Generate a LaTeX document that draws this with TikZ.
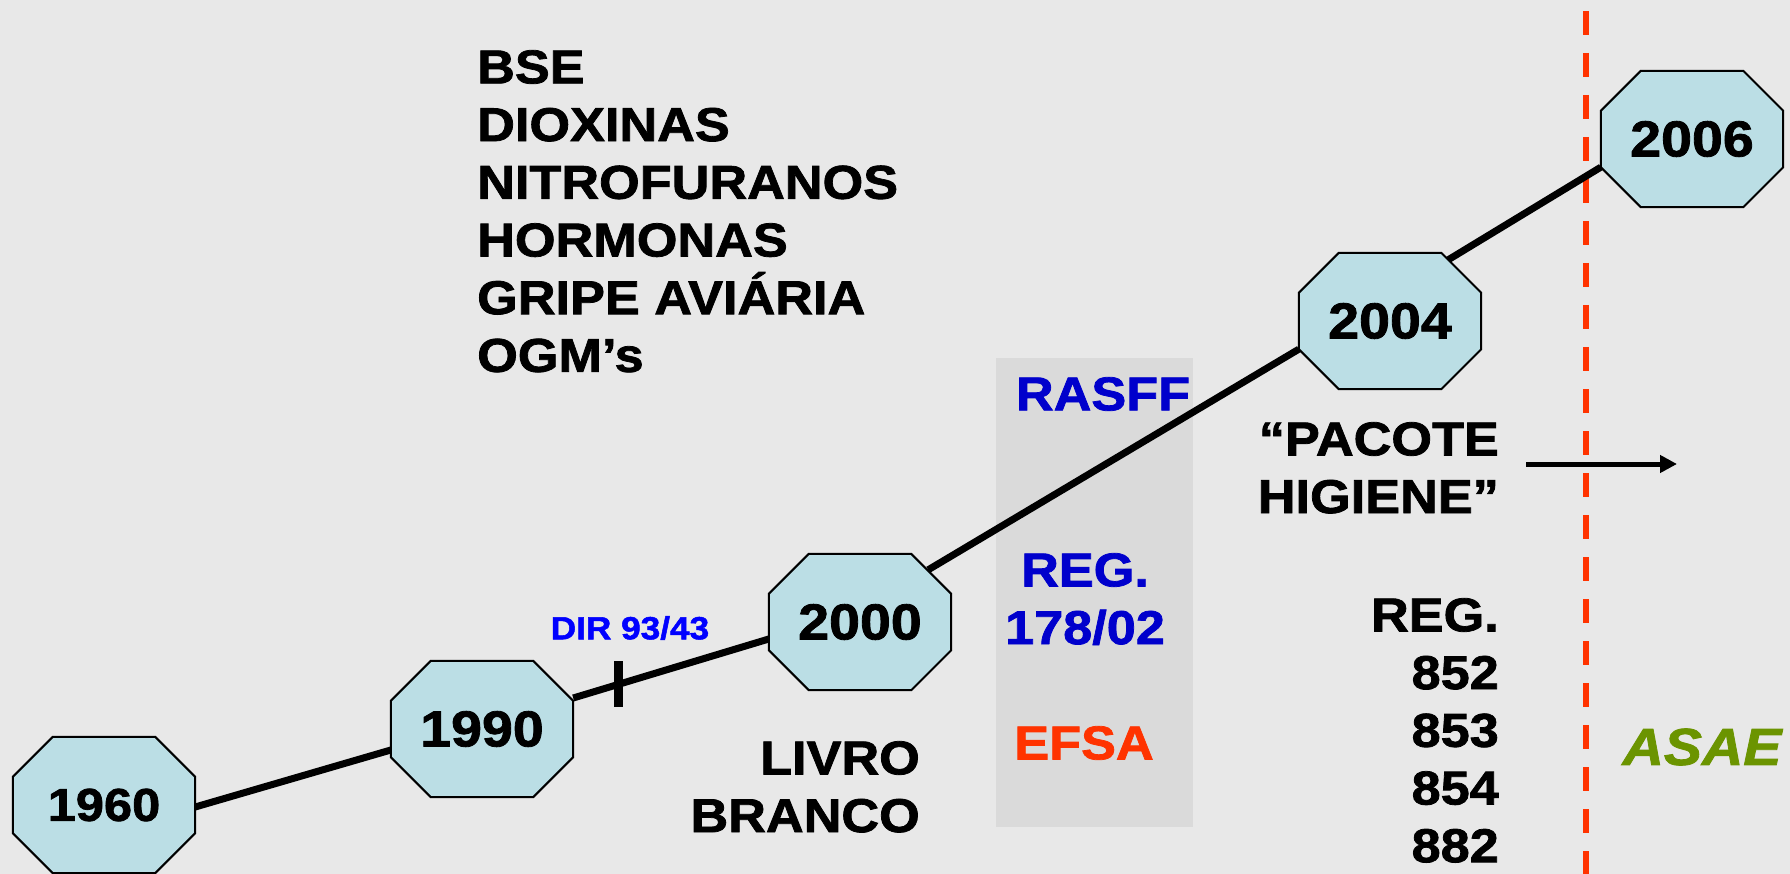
\documentclass[tikz,border=0pt]{standalone}
\usepackage{fontspec}
\setmainfont{Liberation Sans}[FakeStretch=1.1, BoldFeatures={FakeBold=1.6}, BoldItalicFeatures={FakeBold=1.6}]
\usetikzlibrary{arrows.meta}
\definecolor{bgc}{HTML}{E8E8E8}
\definecolor{boxc}{HTML}{DADADA}
\definecolor{octc}{HTML}{BBDEE5}
\definecolor{blueA}{HTML}{0000CC}
\definecolor{blueB}{HTML}{0000FF}
\definecolor{redc}{HTML}{FF3300}
\definecolor{greenc}{HTML}{6B9400}
\pgfdeclarelayer{back}
\pgfdeclarelayer{lines}
\pgfdeclarelayer{octs}
\pgfsetlayers{back,lines,octs,main}
\newcommand\drawocto[1]{%
  \draw[octo] ([xshift=40pt]#1.north west) -- ([xshift=-40pt]#1.north east)
   -- ([yshift=-40pt]#1.north east) -- ([yshift=40pt]#1.south east)
   -- ([xshift=-40pt]#1.south east) -- ([xshift=40pt]#1.south west)
   -- ([yshift=40pt]#1.south west) -- ([yshift=-40pt]#1.north west) -- cycle;}
\begin{document}
\begin{tikzpicture}[x=1pt,y=-1pt,
  slot/.style={rectangle, minimum width=182pt, minimum height=136pt, inner sep=0pt},
  octo/.style={fill=octc, draw=black, line width=2pt, line join=miter},
  year/.style={font=\fontsize{50.5}{50.5}\selectfont\bfseries},
  big/.style={font=\fontsize{47.5}{57.7}\selectfont\bfseries, inner sep=0pt},
  timeline/.style={line width=7pt, draw=black},
  tickmark/.style={fill=black, minimum width=9pt, minimum height=46pt, inner sep=0pt},
]
\useasboundingbox (0,0) rectangle (1790,874);
\begin{pgfonlayer}{back}
\fill[bgc] (0,0) rectangle (1790,874);
\fill[boxc] (996,358) rectangle (1193,827);
\coordinate (d1) at (1586,11);
\coordinate (d2) at (1586,874);
\draw[redc, line width=6pt, dash pattern=on 24pt off 18pt] (d1) -- (d2);
\end{pgfonlayer}

\node[slot,year] (n1960) at (104,805) {\fontsize{46}{46}\selectfont 1960};
\node[slot,year] (n1990) at (482,729) {1990};
\node[slot,year] (n2000) at (860,622) {2000};
\node[slot,year] (n2004) at (1390,321) {2004};
\node[slot,year] (n2006) at (1692,139) {2006};

\begin{pgfonlayer}{octs}
\drawocto{n1960}
\drawocto{n1990}
\drawocto{n2000}
\drawocto{n2004}
\drawocto{n2006}
\end{pgfonlayer}

\begin{pgfonlayer}{lines}
\draw[timeline] ([yshift=-2pt]n1960.east) -- ([yshift=-21pt]n1990.west);
\draw[timeline] ([yshift=31pt]n1990.east) -- node[pos=0.23, tickmark] (tick) {} ([yshift=-17pt]n2000.west);
\draw[timeline] ([xshift=-23pt,yshift=-16pt]n2000.north east) -- ([yshift=40pt]n2004.south west);
\draw[timeline] ([xshift=-33pt,yshift=-7pt]n2004.north east) -- ([yshift=40pt]n2006.south west);
\end{pgfonlayer}

\coordinate (a1) at (1526,464);
\coordinate (a2) at (1677,464);
\draw[line width=5pt, -{Triangle[length=17pt,width=17pt]}] (a1) -- (a2);

\node[big, align=left, anchor=north west] (risks) at (477,50)
  {BSE\\DIOXINAS\\NITROFURANOS\\HORMONAS\\GRIPE AVIÁRIA\\OGM’s};
\node[big, align=right, anchor=north east] (livro) at (920,741) {LIVRO\\BRANCO};
\node[big, align=right, anchor=north east] (pacote) at (1499,422) {“PACOTE\\HIGIENE”};
\node[big, align=right, anchor=north east] (regs) at (1499,598) {REG.\\852\\853\\854\\882};
\node[font=\fontsize{32}{32}\selectfont\bfseries, text=blueB, inner sep=0pt] (dir) at (630,628) {DIR 93/43};
\node[big, text=blueA, anchor=north] (rasff) at (1103,377) {RASFF};
\node[big, text=blueA, align=center, anchor=north] (reg178) at (1085,553) {REG.\\178/02};
\node[big, text=redc, anchor=north] (efsa) at (1084,726) {EFSA};
\node[font=\fontsize{52}{52}\selectfont\bfseries\itshape, text=greenc, inner sep=0pt] (asae) at (1702,747) {ASAE};
\end{tikzpicture}
\end{document}
